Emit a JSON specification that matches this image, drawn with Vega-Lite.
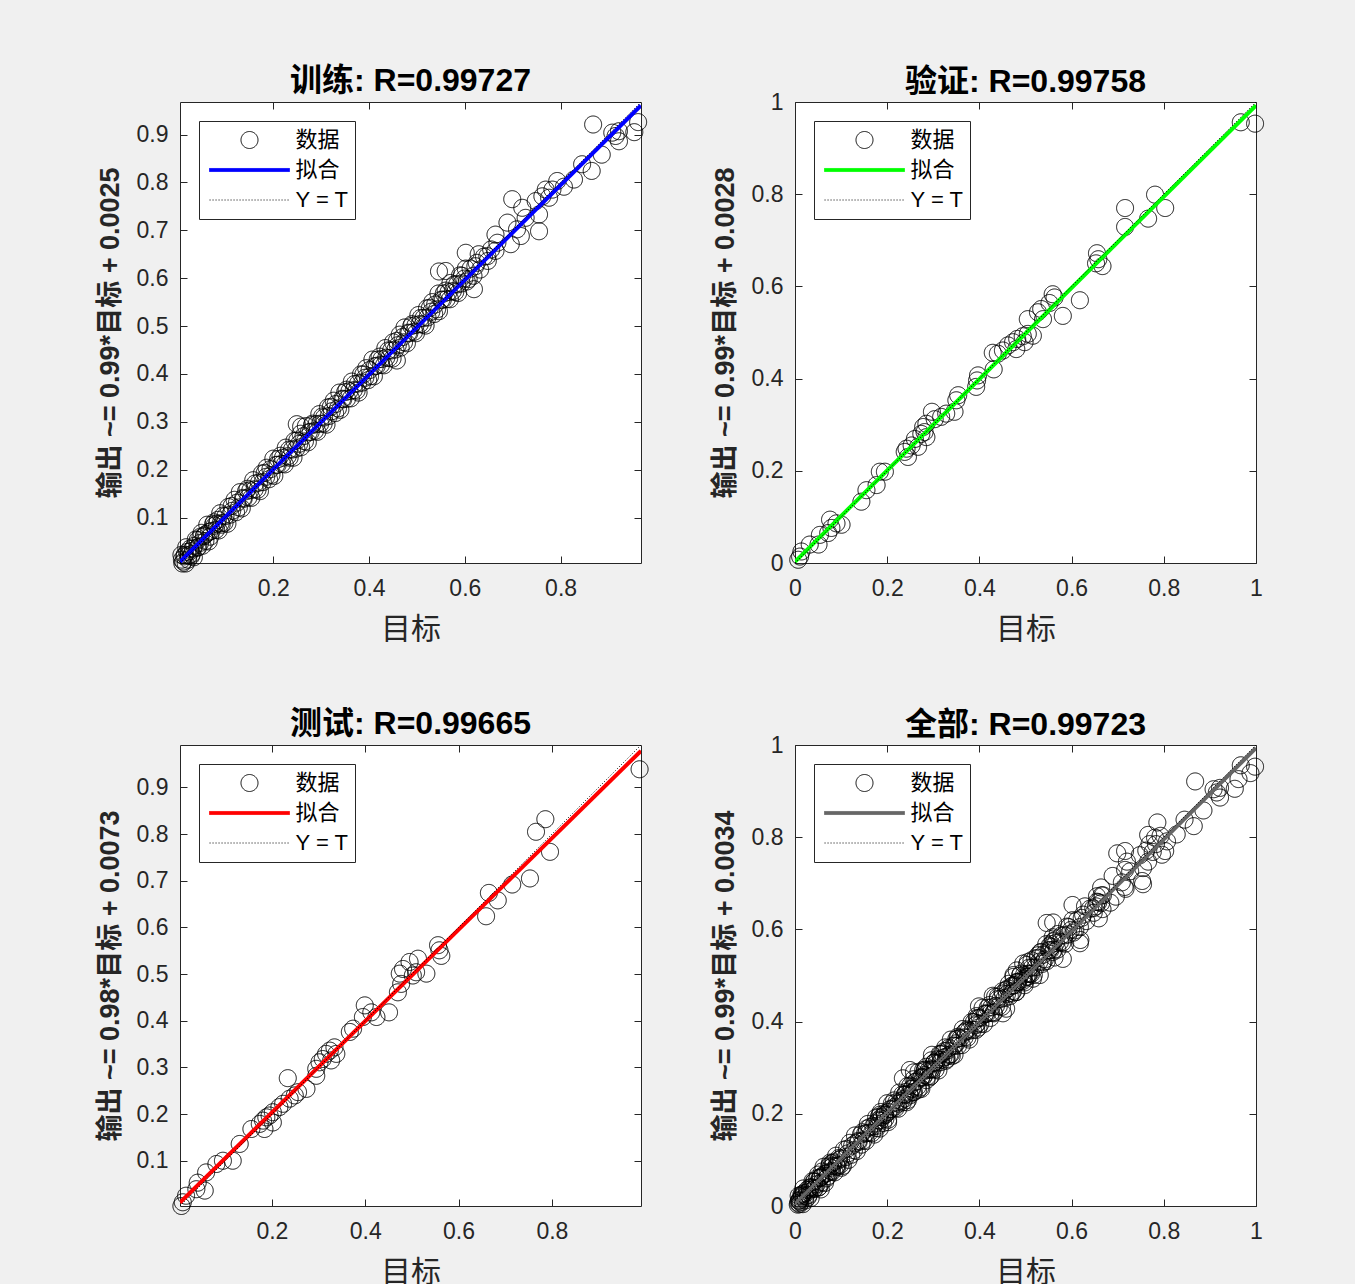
{
"$schema":"https://vega.github.io/schema/vega-lite/v6.json",
"background":"#f0f0f0",
"padding":{"left":95,"top":64,"right":88,"bottom":5},
"datasets":{
"kinds":[{"s":"tr","kind":"数据"},{"s":"va","kind":"数据"},{"s":"te","kind":"数据"}],
"lines":[
{"p":"tr","k":"fit","t":0.005,"y":0.0075},{"p":"tr","k":"fit","t":0.968,"y":0.9608},
{"p":"tr","k":"id","t":0.005,"y":0.005},{"p":"tr","k":"id","t":0.968,"y":0.968},
{"p":"va","k":"fit","t":0,"y":0.0028},{"p":"va","k":"fit","t":1,"y":0.9928},
{"p":"va","k":"id","t":0,"y":0},{"p":"va","k":"id","t":1,"y":1},
{"p":"te","k":"fit","t":0.003,"y":0.0102},{"p":"te","k":"fit","t":0.991,"y":0.9785},
{"p":"te","k":"id","t":0.003,"y":0.003},{"p":"te","k":"id","t":0.991,"y":0.991},
{"p":"all","k":"fit","t":0,"y":0.0034},{"p":"all","k":"fit","t":1,"y":0.9934},
{"p":"all","k":"id","t":0,"y":0},{"p":"all","k":"id","t":1,"y":1}
],
"pts":[
{"s":"tr","t":0.008,"y":0.022},{"s":"tr","t":0.010,"y":0.004},{"s":"tr","t":0.014,"y":0.019},{"s":"tr","t":0.017,"y":0.004},{"s":"tr","t":0.018,"y":0.038},{"s":"tr","t":0.023,"y":0.021},{"s":"tr","t":0.026,"y":0.035},{"s":"tr","t":0.028,"y":0.019},
{"s":"tr","t":0.032,"y":0.035},{"s":"tr","t":0.034,"y":0.017},{"s":"tr","t":0.038,"y":0.054},{"s":"tr","t":0.041,"y":0.037},{"s":"tr","t":0.042,"y":0.053},{"s":"tr","t":0.047,"y":0.047},{"s":"tr","t":0.050,"y":0.068},{"s":"tr","t":0.052,"y":0.041},
{"s":"tr","t":0.056,"y":0.063},{"s":"tr","t":0.058,"y":0.051},{"s":"tr","t":0.062,"y":0.085},{"s":"tr","t":0.065,"y":0.050},{"s":"tr","t":0.066,"y":0.070},{"s":"tr","t":0.071,"y":0.072},{"s":"tr","t":0.074,"y":0.086},{"s":"tr","t":0.076,"y":0.090},
{"s":"tr","t":0.080,"y":0.074},{"s":"tr","t":0.082,"y":0.087},{"s":"tr","t":0.086,"y":0.073},{"s":"tr","t":0.089,"y":0.109},{"s":"tr","t":0.090,"y":0.088},{"s":"tr","t":0.095,"y":0.104},{"s":"tr","t":0.098,"y":0.089},{"s":"tr","t":0.100,"y":0.103},
{"s":"tr","t":0.104,"y":0.087},{"s":"tr","t":0.106,"y":0.122},{"s":"tr","t":0.110,"y":0.106},{"s":"tr","t":0.113,"y":0.124},{"s":"tr","t":0.114,"y":0.114},{"s":"tr","t":0.119,"y":0.137},{"s":"tr","t":0.122,"y":0.111},{"s":"tr","t":0.124,"y":0.131},
{"s":"tr","t":0.128,"y":0.121},{"s":"tr","t":0.130,"y":0.153},{"s":"tr","t":0.134,"y":0.119},{"s":"tr","t":0.137,"y":0.141},{"s":"tr","t":0.138,"y":0.139},{"s":"tr","t":0.143,"y":0.155},{"s":"tr","t":0.146,"y":0.160},{"s":"tr","t":0.148,"y":0.142},
{"s":"tr","t":0.152,"y":0.157},{"s":"tr","t":0.154,"y":0.141},{"s":"tr","t":0.158,"y":0.178},{"s":"tr","t":0.161,"y":0.159},{"s":"tr","t":0.162,"y":0.171},{"s":"tr","t":0.167,"y":0.158},{"s":"tr","t":0.170,"y":0.173},{"s":"tr","t":0.172,"y":0.155},
{"s":"tr","t":0.176,"y":0.192},{"s":"tr","t":0.178,"y":0.174},{"s":"tr","t":0.182,"y":0.193},{"s":"tr","t":0.185,"y":0.185},{"s":"tr","t":0.186,"y":0.204},{"s":"tr","t":0.191,"y":0.180},{"s":"tr","t":0.194,"y":0.201},{"s":"tr","t":0.196,"y":0.189},
{"s":"tr","t":0.200,"y":0.223},{"s":"tr","t":0.202,"y":0.187},{"s":"tr","t":0.206,"y":0.210},{"s":"tr","t":0.209,"y":0.210},{"s":"tr","t":0.210,"y":0.222},{"s":"tr","t":0.215,"y":0.229},{"s":"tr","t":0.218,"y":0.212},{"s":"tr","t":0.220,"y":0.225},
{"s":"tr","t":0.224,"y":0.211},{"s":"tr","t":0.226,"y":0.246},{"s":"tr","t":0.230,"y":0.228},{"s":"tr","t":0.233,"y":0.242},{"s":"tr","t":0.234,"y":0.225},{"s":"tr","t":0.239,"y":0.242},{"s":"tr","t":0.242,"y":0.225},{"s":"tr","t":0.244,"y":0.260},
{"s":"tr","t":0.248,"y":0.244},{"s":"tr","t":0.250,"y":0.261},{"s":"tr","t":0.254,"y":0.254},{"s":"tr","t":0.257,"y":0.275},{"s":"tr","t":0.258,"y":0.247},{"s":"tr","t":0.263,"y":0.270},{"s":"tr","t":0.266,"y":0.259},{"s":"tr","t":0.268,"y":0.291},
{"s":"tr","t":0.272,"y":0.257},{"s":"tr","t":0.274,"y":0.278},{"s":"tr","t":0.278,"y":0.279},{"s":"tr","t":0.281,"y":0.293},{"s":"tr","t":0.282,"y":0.296},{"s":"tr","t":0.287,"y":0.281},{"s":"tr","t":0.290,"y":0.295},{"s":"tr","t":0.292,"y":0.279},
{"s":"tr","t":0.296,"y":0.316},{"s":"tr","t":0.298,"y":0.296},{"s":"tr","t":0.302,"y":0.311},{"s":"tr","t":0.305,"y":0.296},{"s":"tr","t":0.306,"y":0.309},{"s":"tr","t":0.311,"y":0.294},{"s":"tr","t":0.314,"y":0.330},{"s":"tr","t":0.316,"y":0.312},
{"s":"tr","t":0.320,"y":0.331},{"s":"tr","t":0.322,"y":0.322},{"s":"tr","t":0.326,"y":0.344},{"s":"tr","t":0.329,"y":0.318},{"s":"tr","t":0.330,"y":0.337},{"s":"tr","t":0.335,"y":0.328},{"s":"tr","t":0.338,"y":0.361},{"s":"tr","t":0.340,"y":0.325},
{"s":"tr","t":0.344,"y":0.348},{"s":"tr","t":0.346,"y":0.347},{"s":"tr","t":0.350,"y":0.362},{"s":"tr","t":0.353,"y":0.367},{"s":"tr","t":0.354,"y":0.348},{"s":"tr","t":0.359,"y":0.364},{"s":"tr","t":0.362,"y":0.349},{"s":"tr","t":0.364,"y":0.384},
{"s":"tr","t":0.368,"y":0.366},{"s":"tr","t":0.370,"y":0.379},{"s":"tr","t":0.374,"y":0.365},{"s":"tr","t":0.377,"y":0.380},{"s":"tr","t":0.378,"y":0.361},{"s":"tr","t":0.383,"y":0.399},{"s":"tr","t":0.386,"y":0.382},{"s":"tr","t":0.388,"y":0.399},
{"s":"tr","t":0.392,"y":0.392},{"s":"tr","t":0.394,"y":0.412},{"s":"tr","t":0.398,"y":0.387},{"s":"tr","t":0.401,"y":0.408},{"s":"tr","t":0.402,"y":0.395},{"s":"tr","t":0.407,"y":0.430},{"s":"tr","t":0.410,"y":0.395},{"s":"tr","t":0.412,"y":0.416},
{"s":"tr","t":0.416,"y":0.417},{"s":"tr","t":0.418,"y":0.430},{"s":"tr","t":0.422,"y":0.436},{"s":"tr","t":0.425,"y":0.419},{"s":"tr","t":0.426,"y":0.431},{"s":"tr","t":0.431,"y":0.418},{"s":"tr","t":0.434,"y":0.454},{"s":"tr","t":0.436,"y":0.434},
{"s":"tr","t":0.440,"y":0.449},{"s":"tr","t":0.442,"y":0.433},{"s":"tr","t":0.446,"y":0.449},{"s":"tr","t":0.449,"y":0.432},{"s":"tr","t":0.450,"y":0.466},{"s":"tr","t":0.455,"y":0.451},{"s":"tr","t":0.458,"y":0.469},{"s":"tr","t":0.460,"y":0.460},
{"s":"tr","t":0.464,"y":0.482},{"s":"tr","t":0.466,"y":0.455},{"s":"tr","t":0.470,"y":0.477},{"s":"tr","t":0.473,"y":0.466},{"s":"tr","t":0.474,"y":0.497},{"s":"tr","t":0.479,"y":0.464},{"s":"tr","t":0.482,"y":0.486},{"s":"tr","t":0.484,"y":0.485},
{"s":"tr","t":0.488,"y":0.500},{"s":"tr","t":0.490,"y":0.504},{"s":"tr","t":0.494,"y":0.488},{"s":"tr","t":0.497,"y":0.502},{"s":"tr","t":0.498,"y":0.485},{"s":"tr","t":0.503,"y":0.523},{"s":"tr","t":0.506,"y":0.504},{"s":"tr","t":0.508,"y":0.517},
{"s":"tr","t":0.512,"y":0.503},{"s":"tr","t":0.514,"y":0.517},{"s":"tr","t":0.518,"y":0.501},{"s":"tr","t":0.521,"y":0.537},{"s":"tr","t":0.522,"y":0.518},{"s":"tr","t":0.527,"y":0.538},{"s":"tr","t":0.530,"y":0.530},{"s":"tr","t":0.532,"y":0.550},
{"s":"tr","t":0.536,"y":0.525},{"s":"tr","t":0.538,"y":0.545},{"s":"tr","t":0.542,"y":0.535},{"s":"tr","t":0.545,"y":0.568},{"s":"tr","t":0.546,"y":0.531},{"s":"tr","t":0.551,"y":0.555},{"s":"tr","t":0.554,"y":0.555},{"s":"tr","t":0.556,"y":0.568},
{"s":"tr","t":0.560,"y":0.574},{"s":"tr","t":0.562,"y":0.556},{"s":"tr","t":0.566,"y":0.571},{"s":"tr","t":0.569,"y":0.556},{"s":"tr","t":0.570,"y":0.590},{"s":"tr","t":0.575,"y":0.573},{"s":"tr","t":0.578,"y":0.587},{"s":"tr","t":0.580,"y":0.571},
{"s":"tr","t":0.584,"y":0.587},{"s":"tr","t":0.586,"y":0.569},{"s":"tr","t":0.590,"y":0.606},{"s":"tr","t":0.593,"y":0.589},{"s":"tr","t":0.594,"y":0.605},{"s":"tr","t":0.599,"y":0.599},{"s":"tr","t":0.602,"y":0.620},{"s":"tr","t":0.604,"y":0.593},
{"s":"tr","t":0.012,"y":0.008},{"s":"tr","t":0.015,"y":0.022},{"s":"tr","t":0.020,"y":0.028},{"s":"tr","t":0.022,"y":0.012},{"s":"tr","t":0.027,"y":0.030},{"s":"tr","t":0.030,"y":0.024},{"s":"tr","t":0.035,"y":0.041},{"s":"tr","t":0.043,"y":0.038},{"s":"tr","t":0.048,"y":0.060},{"s":"tr","t":0.055,"y":0.061},{"s":"tr","t":0.060,"y":0.066},{"s":"tr","t":0.068,"y":0.060},{"s":"tr","t":0.077,"y":0.083},{"s":"tr","t":0.084,"y":0.095},{"s":"tr","t":0.092,"y":0.085},{"s":"tr","t":0.009,"y":0.012},
{"s":"tr","t":0.249,"y":0.295},{"s":"tr","t":0.258,"y":0.290},{"s":"tr","t":0.458,"y":0.428},{"s":"tr","t":0.546,"y":0.614},{"s":"tr","t":0.560,"y":0.615},{"s":"tr","t":0.619,"y":0.577},
{"s":"tr","t":0.608,"y":0.598},{"s":"tr","t":0.612,"y":0.620},{"s":"tr","t":0.618,"y":0.605},{"s":"tr","t":0.625,"y":0.632},{"s":"tr","t":0.632,"y":0.618},{"s":"tr","t":0.640,"y":0.645},{"s":"tr","t":0.648,"y":0.636},{"s":"tr","t":0.655,"y":0.660},
{"s":"tr","t":0.689,"y":0.716},{"s":"tr","t":0.709,"y":0.702},{"s":"tr","t":0.717,"y":0.688},{"s":"tr","t":0.696,"y":0.671},{"s":"tr","t":0.664,"y":0.691},{"s":"tr","t":0.668,"y":0.674},{"s":"tr","t":0.664,"y":0.657},{"s":"tr","t":0.647,"y":0.646},{"s":"tr","t":0.629,"y":0.650},{"s":"tr","t":0.602,"y":0.653},{"s":"tr","t":0.622,"y":0.625},{"s":"tr","t":0.699,"y":0.765},{"s":"tr","t":0.720,"y":0.747},{"s":"tr","t":0.748,"y":0.761},{"s":"tr","t":0.755,"y":0.733},{"s":"tr","t":0.727,"y":0.726},{"s":"tr","t":0.755,"y":0.698},{"s":"tr","t":0.828,"y":0.806},{"s":"tr","t":0.807,"y":0.791},{"s":"tr","t":0.793,"y":0.803},{"s":"tr","t":0.783,"y":0.785},{"s":"tr","t":0.769,"y":0.785},{"s":"tr","t":0.776,"y":0.768},{"s":"tr","t":0.762,"y":0.771},{"s":"tr","t":0.845,"y":0.838},{"s":"tr","t":0.865,"y":0.824},{"s":"tr","t":0.886,"y":0.858},{"s":"tr","t":0.868,"y":0.921},{"s":"tr","t":0.922,"y":0.907},{"s":"tr","t":0.915,"y":0.897},{"s":"tr","t":0.922,"y":0.886},{"s":"tr","t":0.908,"y":0.904},{"s":"tr","t":0.954,"y":0.905},{"s":"tr","t":0.962,"y":0.926},
{"s":"va","t":0.967,"y":0.956},{"s":"va","t":0.998,"y":0.953},{"s":"va","t":0.716,"y":0.770},{"s":"va","t":0.781,"y":0.799},{"s":"va","t":0.803,"y":0.770},{"s":"va","t":0.716,"y":0.729},{"s":"va","t":0.766,"y":0.747},{"s":"va","t":0.655,"y":0.672},{"s":"va","t":0.658,"y":0.659},{"s":"va","t":0.667,"y":0.644},{"s":"va","t":0.653,"y":0.650},{"s":"va","t":0.618,"y":0.570},{"s":"va","t":0.581,"y":0.536},{"s":"va","t":0.559,"y":0.583},{"s":"va","t":0.563,"y":0.576},{"s":"va","t":0.552,"y":0.564},{"s":"va","t":0.534,"y":0.551},{"s":"va","t":0.527,"y":0.544},{"s":"va","t":0.538,"y":0.529},{"s":"va","t":0.505,"y":0.529},{"s":"va","t":0.505,"y":0.497},{"s":"va","t":0.494,"y":0.492},{"s":"va","t":0.482,"y":0.486},{"s":"va","t":0.473,"y":0.479},{"s":"va","t":0.462,"y":0.472},{"s":"va","t":0.451,"y":0.461},{"s":"va","t":0.440,"y":0.454},{"s":"va","t":0.429,"y":0.456},{"s":"va","t":0.480,"y":0.464},{"s":"va","t":0.498,"y":0.479},{"s":"va","t":0.516,"y":0.493},{"s":"va","t":0.431,"y":0.420},{"s":"va","t":0.397,"y":0.407},{"s":"va","t":0.395,"y":0.396},{"s":"va","t":0.393,"y":0.382},{"s":"va","t":0.354,"y":0.364},{"s":"va","t":0.350,"y":0.353},{"s":"va","t":0.346,"y":0.328},{"s":"va","t":0.328,"y":0.324},{"s":"va","t":0.317,"y":0.317},{"s":"va","t":0.303,"y":0.312},{"s":"va","t":0.297,"y":0.328},{"s":"va","t":0.285,"y":0.302},{"s":"va","t":0.278,"y":0.295},{"s":"va","t":0.281,"y":0.284},{"s":"va","t":0.285,"y":0.273},{"s":"va","t":0.274,"y":0.280},{"s":"va","t":0.260,"y":0.269},{"s":"va","t":0.253,"y":0.255},{"s":"va","t":0.242,"y":0.248},{"s":"va","t":0.238,"y":0.241},{"s":"va","t":0.245,"y":0.230},{"s":"va","t":0.267,"y":0.252},{"s":"va","t":0.195,"y":0.198},{"s":"va","t":0.184,"y":0.198},{"s":"va","t":0.177,"y":0.169},{"s":"va","t":0.155,"y":0.158},{"s":"va","t":0.144,"y":0.133},{"s":"va","t":0.101,"y":0.083},{"s":"va","t":0.090,"y":0.086},{"s":"va","t":0.076,"y":0.094},{"s":"va","t":0.079,"y":0.076},{"s":"va","t":0.072,"y":0.065},{"s":"va","t":0.054,"y":0.061},{"s":"va","t":0.051,"y":0.040},{"s":"va","t":0.032,"y":0.040},{"s":"va","t":0.014,"y":0.025},{"s":"va","t":0.011,"y":0.014},{"s":"va","t":0.007,"y":0.007},
{"s":"te","t":0.988,"y":0.939},{"s":"te","t":0.786,"y":0.832},{"s":"te","t":0.766,"y":0.805},{"s":"te","t":0.796,"y":0.762},{"s":"te","t":0.753,"y":0.705},{"s":"te","t":0.715,"y":0.692},{"s":"te","t":0.684,"y":0.658},{"s":"te","t":0.665,"y":0.674},{"s":"te","t":0.659,"y":0.624},{"s":"te","t":0.556,"y":0.562},{"s":"te","t":0.559,"y":0.551},{"s":"te","t":0.563,"y":0.539},{"s":"te","t":0.531,"y":0.501},{"s":"te","t":0.513,"y":0.533},{"s":"te","t":0.495,"y":0.526},{"s":"te","t":0.481,"y":0.511},{"s":"te","t":0.474,"y":0.501},{"s":"te","t":0.502,"y":0.497},{"s":"te","t":0.509,"y":0.504},{"s":"te","t":0.470,"y":0.461},{"s":"te","t":0.477,"y":0.479},{"s":"te","t":0.451,"y":0.418},{"s":"te","t":0.424,"y":0.408},{"s":"te","t":0.413,"y":0.418},{"s":"te","t":0.399,"y":0.433},{"s":"te","t":0.395,"y":0.408},{"s":"te","t":0.374,"y":0.383},{"s":"te","t":0.367,"y":0.376},{"s":"te","t":0.334,"y":0.343},{"s":"te","t":0.324,"y":0.336},{"s":"te","t":0.316,"y":0.329},{"s":"te","t":0.309,"y":0.318},{"s":"te","t":0.302,"y":0.311},{"s":"te","t":0.295,"y":0.297},{"s":"te","t":0.295,"y":0.282},{"s":"te","t":0.327,"y":0.315},{"s":"te","t":0.338,"y":0.329},{"s":"te","t":0.274,"y":0.254},{"s":"te","t":0.256,"y":0.247},{"s":"te","t":0.249,"y":0.240},{"s":"te","t":0.234,"y":0.277},{"s":"te","t":0.238,"y":0.233},{"s":"te","t":0.224,"y":0.222},{"s":"te","t":0.216,"y":0.215},{"s":"te","t":0.202,"y":0.204},{"s":"te","t":0.195,"y":0.197},{"s":"te","t":0.188,"y":0.193},{"s":"te","t":0.181,"y":0.186},{"s":"te","t":0.174,"y":0.179},{"s":"te","t":0.184,"y":0.168},{"s":"te","t":0.202,"y":0.182},{"s":"te","t":0.156,"y":0.168},{"s":"te","t":0.131,"y":0.136},{"s":"te","t":0.116,"y":0.100},{"s":"te","t":0.095,"y":0.100},{"s":"te","t":0.081,"y":0.093},{"s":"te","t":0.059,"y":0.075},{"s":"te","t":0.041,"y":0.053},{"s":"te","t":0.056,"y":0.036},{"s":"te","t":0.038,"y":0.039},{"s":"te","t":0.016,"y":0.025},{"s":"te","t":0.009,"y":0.011},{"s":"te","t":0.006,"y":0.003}
]
},
"concat":[
{"width":461,"height":461,"title":{"text":"训练: R=0.99727","offset":4},
 "resolve":{"axis":{"x":"independent","y":"independent"}},
 "layer":[
  {"data":{"name":"pts"},
   "transform":[{"filter":"datum.s==='tr'"},{"lookup":"s","from":{"data":{"name":"kinds"},"key":"s","fields":["kind"]}}],
   "mark":{"type":"point","filled":false,"opacity":1,"size":289,"strokeWidth":1,"clip":false},
   "encoding":{
    "x":{"field":"t","type":"quantitative","scale":{"domain":[0.005,0.968],"nice":false,"zero":false},"axis":{"orient":"bottom","values":[0.2,0.4,0.6,0.8],"title":"目标"}},
    "y":{"field":"y","type":"quantitative","scale":{"domain":[0.005,0.968],"nice":false,"zero":false},"axis":{"orient":"left","values":[0.1,0.2,0.3,0.4,0.5,0.6,0.7,0.8,0.9],"title":"输出 ~= 0.99*目标 + 0.0025"}},
    "color":{"field":"kind","type":"nominal","scale":{"domain":["数据","拟合","Y = T"],"range":["#000000","#0000ff","#000000"]},"legend":{"title":null}},
    "fill":{"field":"kind","type":"nominal","scale":{"domain":["数据","拟合","Y = T"],"range":["transparent","#0000ff","transparent"]},"legend":{"title":null}},
    "shape":{"field":"kind","type":"nominal","scale":{"domain":["数据","拟合","Y = T"],"range":["circle","M-4.7,-0.18H4.7V0.18H-4.7Z","M-4.7,0H4.7"]},"legend":{"title":null}},
    "strokeDash":{"field":"kind","type":"nominal","scale":{"domain":["数据","拟合","Y = T"],"range":[[1,0],[1,0],[1,2]]},"legend":{"title":null}}
   }},
  {"data":{"name":"lines"},"transform":[{"filter":"datum.p==='tr' && datum.k==='fit'"}],
   "mark":{"type":"line","color":"#0000ff","strokeWidth":4,"clip":true},
   "encoding":{"x":{"field":"t","type":"quantitative","axis":null},"y":{"field":"y","type":"quantitative","axis":null}}},
  {"data":{"name":"lines"},"transform":[{"filter":"datum.p==='tr' && datum.k==='id'"}],
   "mark":{"type":"line","color":"#000000","strokeWidth":1,"strokeDash":[1,2],"clip":true},
   "encoding":{"x":{"field":"t","type":"quantitative","axis":{"orient":"top","labels":false,"title":null,"values":[0.2,0.4,0.6,0.8]}},"y":{"field":"y","type":"quantitative","axis":{"orient":"right","labels":false,"title":null,"values":[0.1,0.2,0.3,0.4,0.5,0.6,0.7,0.8,0.9]}}}}
 ]},
{"width":461,"height":461,"title":{"text":"验证: R=0.99758","offset":-8},
 "resolve":{"axis":{"x":"independent","y":"independent"}},
 "layer":[
  {"data":{"name":"pts"},
   "transform":[{"filter":"datum.s==='va'"},{"lookup":"s","from":{"data":{"name":"kinds"},"key":"s","fields":["kind"]}}],
   "mark":{"type":"point","filled":false,"opacity":1,"size":289,"strokeWidth":1,"clip":false},
   "encoding":{
    "x":{"field":"t","type":"quantitative","scale":{"domain":[0,1],"nice":false,"zero":false},"axis":{"orient":"bottom","values":[0,0.2,0.4,0.6,0.8,1],"title":"目标"}},
    "y":{"field":"y","type":"quantitative","scale":{"domain":[0,1],"nice":false,"zero":false},"axis":{"orient":"left","values":[0,0.2,0.4,0.6,0.8,1],"title":"输出 ~= 0.99*目标 + 0.0028"}},
    "color":{"field":"kind","type":"nominal","scale":{"domain":["数据","拟合","Y = T"],"range":["#000000","#00ff00","#000000"]},"legend":{"title":null}},
    "fill":{"field":"kind","type":"nominal","scale":{"domain":["数据","拟合","Y = T"],"range":["transparent","#00ff00","transparent"]},"legend":{"title":null}},
    "shape":{"field":"kind","type":"nominal","scale":{"domain":["数据","拟合","Y = T"],"range":["circle","M-4.7,-0.18H4.7V0.18H-4.7Z","M-4.7,0H4.7"]},"legend":{"title":null}},
    "strokeDash":{"field":"kind","type":"nominal","scale":{"domain":["数据","拟合","Y = T"],"range":[[1,0],[1,0],[1,2]]},"legend":{"title":null}}
   }},
  {"data":{"name":"lines"},"transform":[{"filter":"datum.p==='va' && datum.k==='fit'"}],
   "mark":{"type":"line","color":"#00ff00","strokeWidth":4,"clip":true},
   "encoding":{"x":{"field":"t","type":"quantitative","axis":null},"y":{"field":"y","type":"quantitative","axis":null}}},
  {"data":{"name":"lines"},"transform":[{"filter":"datum.p==='va' && datum.k==='id'"}],
   "mark":{"type":"line","color":"#000000","strokeWidth":1,"strokeDash":[1,2],"clip":true},
   "encoding":{"x":{"field":"t","type":"quantitative","axis":{"orient":"top","labels":false,"title":null,"values":[0,0.2,0.4,0.6,0.8,1]}},"y":{"field":"y","type":"quantitative","axis":{"orient":"right","labels":false,"title":null,"values":[0,0.2,0.4,0.6,0.8,1]}}}}
 ]},
{"width":461,"height":461,"title":{"text":"测试: R=0.99665","offset":4},
 "resolve":{"axis":{"x":"independent","y":"independent"}},
 "layer":[
  {"data":{"name":"pts"},
   "transform":[{"filter":"datum.s==='te'"},{"lookup":"s","from":{"data":{"name":"kinds"},"key":"s","fields":["kind"]}}],
   "mark":{"type":"point","filled":false,"opacity":1,"size":289,"strokeWidth":1,"clip":false},
   "encoding":{
    "x":{"field":"t","type":"quantitative","scale":{"domain":[0.003,0.991],"nice":false,"zero":false},"axis":{"orient":"bottom","values":[0.2,0.4,0.6,0.8],"title":"目标"}},
    "y":{"field":"y","type":"quantitative","scale":{"domain":[0.003,0.991],"nice":false,"zero":false},"axis":{"orient":"left","values":[0.1,0.2,0.3,0.4,0.5,0.6,0.7,0.8,0.9],"title":"输出 ~= 0.98*目标 + 0.0073"}},
    "color":{"field":"kind","type":"nominal","scale":{"domain":["数据","拟合","Y = T"],"range":["#000000","#ff0000","#000000"]},"legend":{"title":null}},
    "fill":{"field":"kind","type":"nominal","scale":{"domain":["数据","拟合","Y = T"],"range":["transparent","#ff0000","transparent"]},"legend":{"title":null}},
    "shape":{"field":"kind","type":"nominal","scale":{"domain":["数据","拟合","Y = T"],"range":["circle","M-4.7,-0.18H4.7V0.18H-4.7Z","M-4.7,0H4.7"]},"legend":{"title":null}},
    "strokeDash":{"field":"kind","type":"nominal","scale":{"domain":["数据","拟合","Y = T"],"range":[[1,0],[1,0],[1,2]]},"legend":{"title":null}}
   }},
  {"data":{"name":"lines"},"transform":[{"filter":"datum.p==='te' && datum.k==='fit'"}],
   "mark":{"type":"line","color":"#ff0000","strokeWidth":4,"clip":true},
   "encoding":{"x":{"field":"t","type":"quantitative","axis":null},"y":{"field":"y","type":"quantitative","axis":null}}},
  {"data":{"name":"lines"},"transform":[{"filter":"datum.p==='te' && datum.k==='id'"}],
   "mark":{"type":"line","color":"#000000","strokeWidth":1,"strokeDash":[1,2],"clip":true},
   "encoding":{"x":{"field":"t","type":"quantitative","axis":{"orient":"top","labels":false,"title":null,"values":[0.2,0.4,0.6,0.8]}},"y":{"field":"y","type":"quantitative","axis":{"orient":"right","labels":false,"title":null,"values":[0.1,0.2,0.3,0.4,0.5,0.6,0.7,0.8,0.9]}}}}
 ]},
{"width":461,"height":461,"title":{"text":"全部: R=0.99723","offset":-8},
 "resolve":{"axis":{"x":"independent","y":"independent"}},
 "layer":[
  {"data":{"name":"pts"},
   "transform":[{"lookup":"s","from":{"data":{"name":"kinds"},"key":"s","fields":["kind"]}}],
   "mark":{"type":"point","filled":false,"opacity":1,"size":289,"strokeWidth":1,"clip":false},
   "encoding":{
    "x":{"field":"t","type":"quantitative","scale":{"domain":[0,1],"nice":false,"zero":false},"axis":{"orient":"bottom","values":[0,0.2,0.4,0.6,0.8,1],"title":"目标"}},
    "y":{"field":"y","type":"quantitative","scale":{"domain":[0,1],"nice":false,"zero":false},"axis":{"orient":"left","values":[0,0.2,0.4,0.6,0.8,1],"title":"输出 ~= 0.99*目标 + 0.0034"}},
    "color":{"field":"kind","type":"nominal","scale":{"domain":["数据","拟合","Y = T"],"range":["#000000","#666666","#000000"]},"legend":{"title":null}},
    "fill":{"field":"kind","type":"nominal","scale":{"domain":["数据","拟合","Y = T"],"range":["transparent","#666666","transparent"]},"legend":{"title":null}},
    "shape":{"field":"kind","type":"nominal","scale":{"domain":["数据","拟合","Y = T"],"range":["circle","M-4.7,-0.18H4.7V0.18H-4.7Z","M-4.7,0H4.7"]},"legend":{"title":null}},
    "strokeDash":{"field":"kind","type":"nominal","scale":{"domain":["数据","拟合","Y = T"],"range":[[1,0],[1,0],[1,2]]},"legend":{"title":null}}
   }},
  {"data":{"name":"lines"},"transform":[{"filter":"datum.p==='all' && datum.k==='fit'"}],
   "mark":{"type":"line","color":"#666666","strokeWidth":4,"clip":true},
   "encoding":{"x":{"field":"t","type":"quantitative","axis":null},"y":{"field":"y","type":"quantitative","axis":null}}},
  {"data":{"name":"lines"},"transform":[{"filter":"datum.p==='all' && datum.k==='id'"}],
   "mark":{"type":"line","color":"#000000","strokeWidth":1,"strokeDash":[1,2],"clip":true},
   "encoding":{"x":{"field":"t","type":"quantitative","axis":{"orient":"top","labels":false,"title":null,"values":[0,0.2,0.4,0.6,0.8,1]}},"y":{"field":"y","type":"quantitative","axis":{"orient":"right","labels":false,"title":null,"values":[0,0.2,0.4,0.6,0.8,1]}}}}
 ]}
],
"columns":2,
"spacing":{"row":182,"column":154},
"bounds":"flush",
"resolve":{"scale":{"color":"independent","fill":"independent","shape":"independent","strokeDash":"independent"}},
"config":{
 "font":"Liberation Sans, Noto Sans CJK SC",
 "view":{"stroke":"#262626","strokeWidth":1,"fill":"#ffffff"},
 "title":{"fontSize":32,"fontWeight":"bold","color":"#000000","font":"Liberation Sans, Noto Sans CJK SC"},
 "axis":{"format":"~g","grid":false,"domain":false,"tickSize":-7,"tickColor":"#262626","labelColor":"#262626","labelFontSize":23,"labelPadding":19,"labelFont":"Liberation Sans","titleColor":"#262626","labelFlush":false,"labelOverlap":false,"titleFont":"Liberation Sans, Noto Sans CJK SC"},
 "axisX":{"titleFontSize":30,"titleFontWeight":"normal","titlePadding":14,"labelPadding":21},
 "axisY":{"titleFontSize":27,"titleFontWeight":"bold","titlePadding":12},
 "legend":{"orient":"top-left","offset":19,"padding":6,"strokeColor":"#262626","fillColor":"#ffffff","labelFont":"Liberation Sans, Noto Sans CJK SC","labelFontSize":22,"labelColor":"#000000","rowPadding":4,"clipHeight":26,"symbolOffset":33.5,"labelOffset":35,"symbolSize":289,"symbolStrokeWidth":1}
}
}
